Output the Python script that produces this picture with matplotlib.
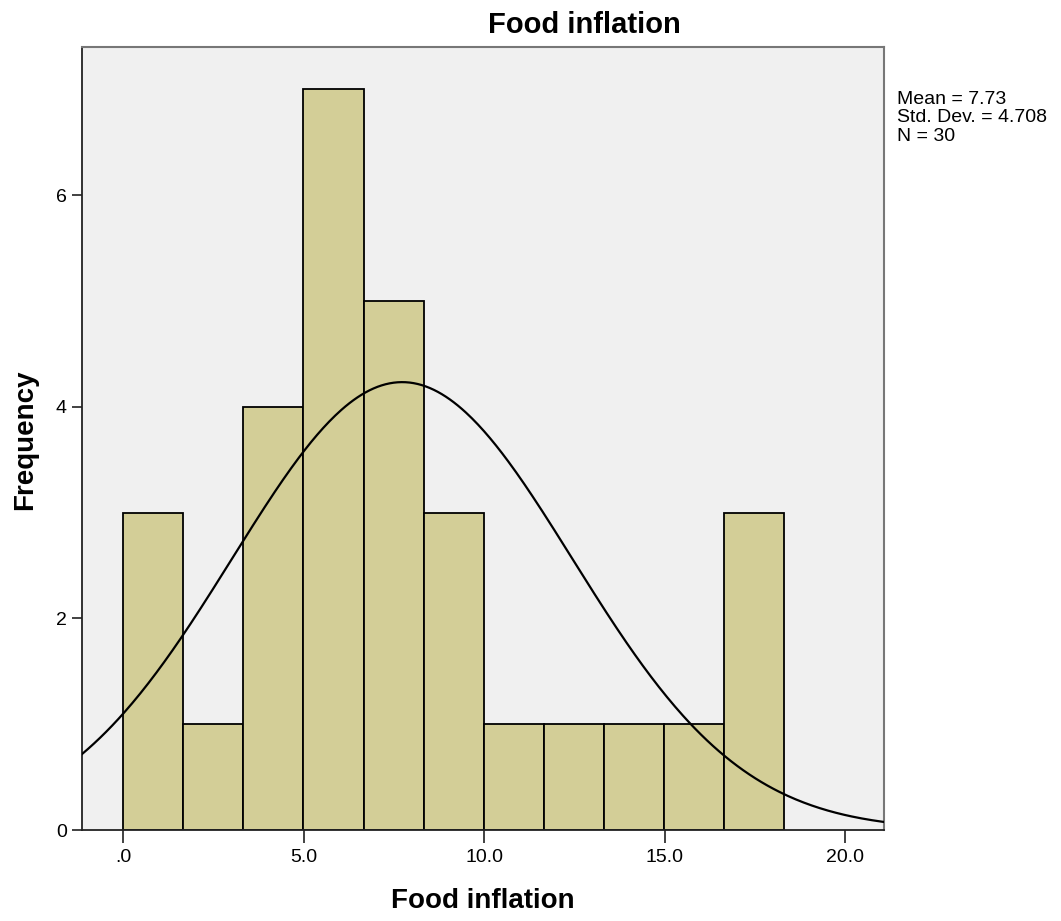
import numpy as np
import matplotlib.pyplot as plt

plt.rcParams['font.family'] = ['Liberation Sans', 'DejaVu Sans']

# histogram bins and counts (width ~1.665, 11 bins from 0)
bin_start = 0.0
bin_width = 1.665
counts = [3, 1, 4, 7, 5, 3, 1, 1, 1, 1, 3]

mean = 7.73
std_dev = 4.708
n_obs = 30

x_ticks = [0, 5, 10, 15, 20]
x_tick_labels = ['.0', '5.0', '10.0', '15.0', '20.0']
y_ticks = [0, 2, 4, 6]

bar_color = '#D3CE97'
bg_color = '#F0F0F0'

fig = plt.figure(figsize=(10.61, 9.21), dpi=100)
ax = fig.add_axes([0.0773, 0.0988, 0.7559, 0.8502])
ax.set_facecolor(bg_color)

lefts = bin_start + bin_width * np.arange(len(counts))
ax.bar(lefts, counts, width=bin_width, align='edge', color=bar_color,
       edgecolor='black', linewidth=1.3, zorder=2)

# normal curve scaled to counts
xs = np.linspace(-1.14, 21.08, 400)
pdf = np.exp(-0.5 * ((xs - mean) / std_dev) ** 2) / (std_dev * np.sqrt(2 * np.pi))
ax.plot(xs, n_obs * bin_width * pdf, color='black', linewidth=1.6, zorder=3)

ax.set_xlim(-1.14, 21.08)
ax.set_ylim(0, 7.4)
ax.set_xticks(x_ticks)
ax.set_xticklabels(x_tick_labels)
ax.set_yticks(y_ticks)
ax.tick_params(axis='both', labelsize=14, length=9, width=1.3, color='#333333')
ax.tick_params(axis='x', pad=5)
ax.tick_params(axis='y', length=7, pad=4)

for side in ['top', 'right']:
    ax.spines[side].set_color('#777777')
    ax.spines[side].set_linewidth(1.5)
for side in ['left', 'bottom']:
    ax.spines[side].set_color('#222222')
    ax.spines[side].set_linewidth(1.3)

fig.text(584 / 1061, 1 - 25 / 921, 'Food inflation', ha='center', va='center',
         fontsize=21, fontweight='bold')
fig.text(483 / 1061, 1 - 901 / 921, 'Food inflation', ha='center', va='center',
         fontsize=20, fontweight='bold')
fig.text(25 / 1061, 1 - 440 / 921, 'Frequency', ha='center', va='center',
         rotation=90, fontsize=20, fontweight='bold')

stats = f'Mean = {mean:.2f}\nStd. Dev. = {std_dev:.3f}\nN = {n_obs}'
fig.text(897 / 1061, 1 - 91 / 921, stats, ha='left', va='top', fontsize=14,
         linespacing=1.1)

fig.savefig('out.png', dpi=100)
